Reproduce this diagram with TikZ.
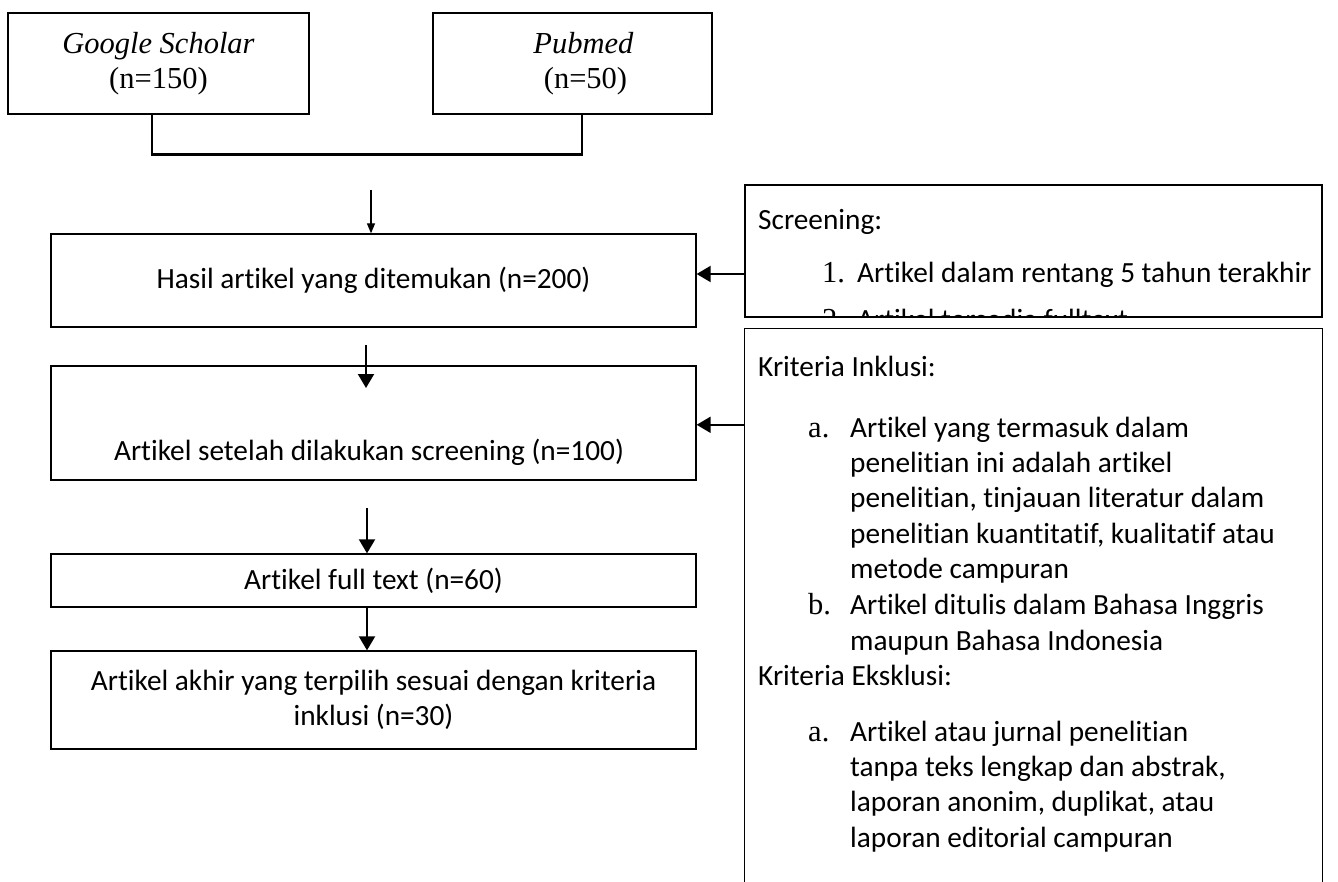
\documentclass[tikz,border=0pt]{standalone}
\usepackage{fontspec}
\setmainfont{Carlito}[Ligatures=NoCommon]
\newfontfamily\timesfont{Liberation Serif}
\usetikzlibrary{arrows.meta,calc,positioning}

\begin{document}
\begin{tikzpicture}[x=1pt,y=-1pt,
    every node/.style={inner sep=0pt},
    font=\fontsize{29.3}{35.3}\selectfont,
    box/.style={draw,line width=1.3pt,align=center},
    serif/.style={font=\fontsize{30.5}{35.3}\timesfont},
    gabung/.style={line width=2.6pt},
    arr/.style={line width=2pt,-{Triangle[length=14pt,width=16pt]}},
    arrthin/.style={line width=1.3pt,-{Triangle[length=10pt,width=8pt]}},
    txt/.style={anchor=base west},
    num/.style={anchor=base west,serif}]

  \useasboundingbox (0,0) rectangle (1338,882);

  % sumber artikel
  \node[box,serif,minimum width=301,minimum height=101] (gs) at (158.5,63.5) {\textit{Google Scholar}\\(n=150)};
  \node[box,serif,minimum width=279,minimum height=101] (pm) at (572.5,63.5) {\hspace*{22pt}\textit{Pubmed}\\\hspace*{26pt}(n=50)};
  \draw[gabung] (gs.south) ++(-6.5,0) -- ++(0,40) -| ($(pm.south)+(9.5,0)$);

  % alur seleksi
  \node[box,minimum width=645,minimum height=93] (hasil) at (373.5,280.5) {Hasil artikel yang ditemukan (n=200)};
  \node[box,minimum width=645,minimum height=114] (setelah) at (373.5,423) {};
  \node (setelahtxt) at (369,452) {Artikel setelah dilakukan screening (n=100)};
  \node[box,minimum width=645,minimum height=53] (full) at (373.5,580.5) {Artikel full text (n=60)};
  \node[box,minimum width=645,minimum height=98] (akhir) at (373.5,700) {Artikel akhir yang terpilih sesuai dengan kriteria\\inklusi (n=30)};

  \coordinate (s1) at (371,190);
  \draw[arrthin] (s1) -- (s1 |- hasil.north);
  \coordinate (s2) at (366,345);
  \coordinate (e2) at (366,388);
  \draw[arr] (s2) -- (e2);
  \coordinate (s3) at (367,508);
  \draw[arr] (s3) -- (s3 |- full.north);
  \draw[arr] (full.south -| s3) -- (s3 |- akhir.north);

  % screening
  \node[draw,line width=1.3pt,minimum width=577,minimum height=132] (scr) at (1033.5,251) {};
  \begin{scope}
    \clip (scr.south west) rectangle (scr.north east);
    \node[txt] (scrjudul) at (758,230) {Screening:};
    \node[num] (scr1) at (822,283) {1.};
    \node[txt] (scr1txt) at (857,283) {Artikel dalam rentang 5 tahun terakhir};
    \node[num] (scr2) at (822,330) {2.};
    \node[txt] (scr2txt) at (857,330) {Artikel tersedia fulltext};
  \end{scope}
  \coordinate (k1) at ($(scr.west)+(0,23)$);
  \draw[arr] (k1) -- (k1 -| hasil.east);

  % kriteria
  \node[minimum width=577,minimum height=554] (krit) at (1033.5,606) {};
  \draw[line width=1.3pt] (krit.south west) -- (krit.north west) -- (krit.north east) -- (krit.south east);
  \coordinate (k2) at ($(krit.north west)+(0,96)$);
  \draw[arr] (k2) -- (k2 -| setelah.east);

  \node[txt] (inkl) at (758,376) {Kriteria Inklusi:};
  \node[num] (inkla) at (808,437) {a.};
  \foreach \baris [count=\i from 0] in {Artikel yang termasuk dalam, penelitian ini adalah artikel,
      {penelitian, tinjauan literatur dalam}, {penelitian kuantitatif, kualitatif atau}, metode campuran}
    \node[txt] (inkla\i) at (850,437+35.4*\i) {\baris};
  \node[num] (inklb) at (808,614) {b.};
  \node[txt] (inklb0) at (850,614) {Artikel ditulis dalam Bahasa Inggris};
  \node[txt] (inklb1) at (850,650) {maupun Bahasa Indonesia};

  \node[txt] (ekskl) at (758,685) {Kriteria Eksklusi:};
  \node[num] (eksa) at (808,741) {a.};
  \foreach \baris [count=\i from 0] in {Artikel atau jurnal penelitian, {tanpa teks lengkap dan abstrak,},
      {laporan anonim, duplikat, atau}, laporan editorial campuran}
    \node[txt] (eksa\i) at (850,741+35.4*\i) {\baris};
\end{tikzpicture}
\end{document}
